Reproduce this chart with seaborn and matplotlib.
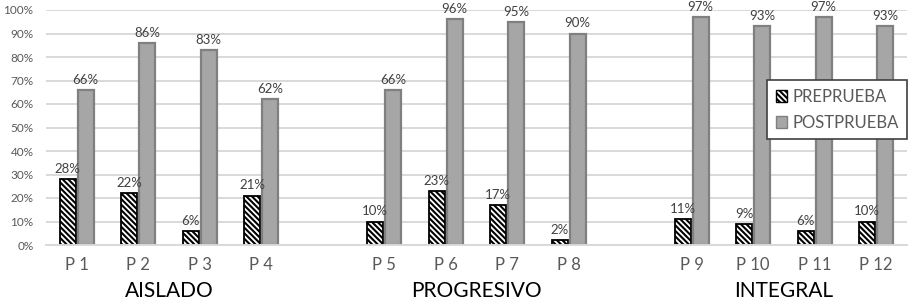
import matplotlib
matplotlib.use("Agg")
import matplotlib.pyplot as plt
import seaborn as sns
import pandas as pd

categories = ["P 1", "P 2", "P 3", "P 4", "P 5", "P 6", "P 7", "P 8", "P 9", "P 10", "P 11", "P 12"]
pre = [28, 22, 6, 21, 10, 23, 17, 2, 11, 9, 6, 10]
post = [66, 86, 83, 62, 66, 96, 95, 90, 97, 93, 97, 93]
series = ["PREPRUEBA", "POSTPRUEBA"]
groups = ["AISLADO", "PROGRESIVO", "INTEGRAL"]
order = ["P 1", "P 2", "P 3", "P 4", " ", "P 5", "P 6", "P 7", "P 8", "  ", "P 9", "P 10", "P 11", "P 12"]
yticks = [0, 10, 20, 30, 40, 50, 60, 70, 80, 90, 100]

sns.set_theme(style="white")
plt.rcParams["font.family"] = ["Lato", "DejaVu Sans"]
plt.rcParams["hatch.linewidth"] = 1.5

df = pd.DataFrame({
    "cat": categories * 2,
    "serie": [series[0]] * len(pre) + [series[1]] * len(post),
    "val": [v / 100 for v in pre] + [v / 100 for v in post],
})

fig = plt.figure(figsize=(9.08, 3.03), dpi=100)
ax = fig.add_axes([46 / 908, 58 / 303, 861 / 908, 235 / 303])

sns.barplot(data=df, x="cat", y="val", hue="serie", order=order, hue_order=series,
            width=0.58, gap=0.1, palette=["white", "#A6A6A6"], ax=ax, legend=True)

PRE_HATCH = "\\\\\\\\\\\\"


def style_pre(p):
    p.set_facecolor("white")
    p.set_edgecolor("black")
    p.set_hatch(PRE_HATCH)
    p.set_linewidth(1.3)


def style_post(p):
    p.set_facecolor("#A6A6A6")
    p.set_edgecolor("#808080")
    p.set_linewidth(1.6)


for i, cont in enumerate(ax.containers):
    for bar in cont:
        if i == 0:
            style_pre(bar)
        else:
            style_post(bar)
    ax.bar_label(cont, labels=[f"{v * 100:.0f}%" if v == v else "" for v in cont.datavalues],
                 padding=3, fontsize=9.5, color="#404040")

ax.set_ylim(0, 1)
ax.set_xlim(-0.5, len(order) - 0.5)
ax.set_yticks([t / 100 for t in yticks])
ax.set_yticklabels([f"{t}%" for t in yticks], fontsize=8.5, color="#595959")
ax.tick_params(axis="y", length=0, pad=9)
ax.tick_params(axis="x", length=0, pad=9, labelsize=12, labelcolor="#595959")
ax.set_xlabel("")
ax.set_ylabel("")
ax.yaxis.grid(True, color="#D9D9D9", linewidth=1.4)
ax.set_axisbelow(True)
for s in ["top", "right", "left"]:
    ax.spines[s].set_visible(False)
ax.spines["bottom"].set_color("#D9D9D9")
ax.spines["bottom"].set_linewidth(1.4)

# group labels centred under each group of four
for gi, g in enumerate(groups):
    center = gi * 5 + 1.5
    ax.text(center, -0.195, g, transform=ax.get_xaxis_transform(), ha="center", va="center",
            fontsize=15, color="black")

leg = ax.legend(loc="upper right", bbox_to_anchor=(1.0, 0.70), frameon=True, fancybox=False,
                framealpha=1, edgecolor="#404040", fontsize=12, handlelength=0.7, handleheight=0.7,
                handletextpad=0.3, borderpad=0.5, labelspacing=0.6, borderaxespad=0)
leg.get_frame().set_linewidth(1.2)
for t in leg.get_texts():
    t.set_color("#595959")
handles = leg.legend_handles
style_pre(handles[0])
handles[0].set_linewidth(1.0)
style_post(handles[1])
handles[1].set_linewidth(1.0)

fig.savefig("out.png", dpi=100)
